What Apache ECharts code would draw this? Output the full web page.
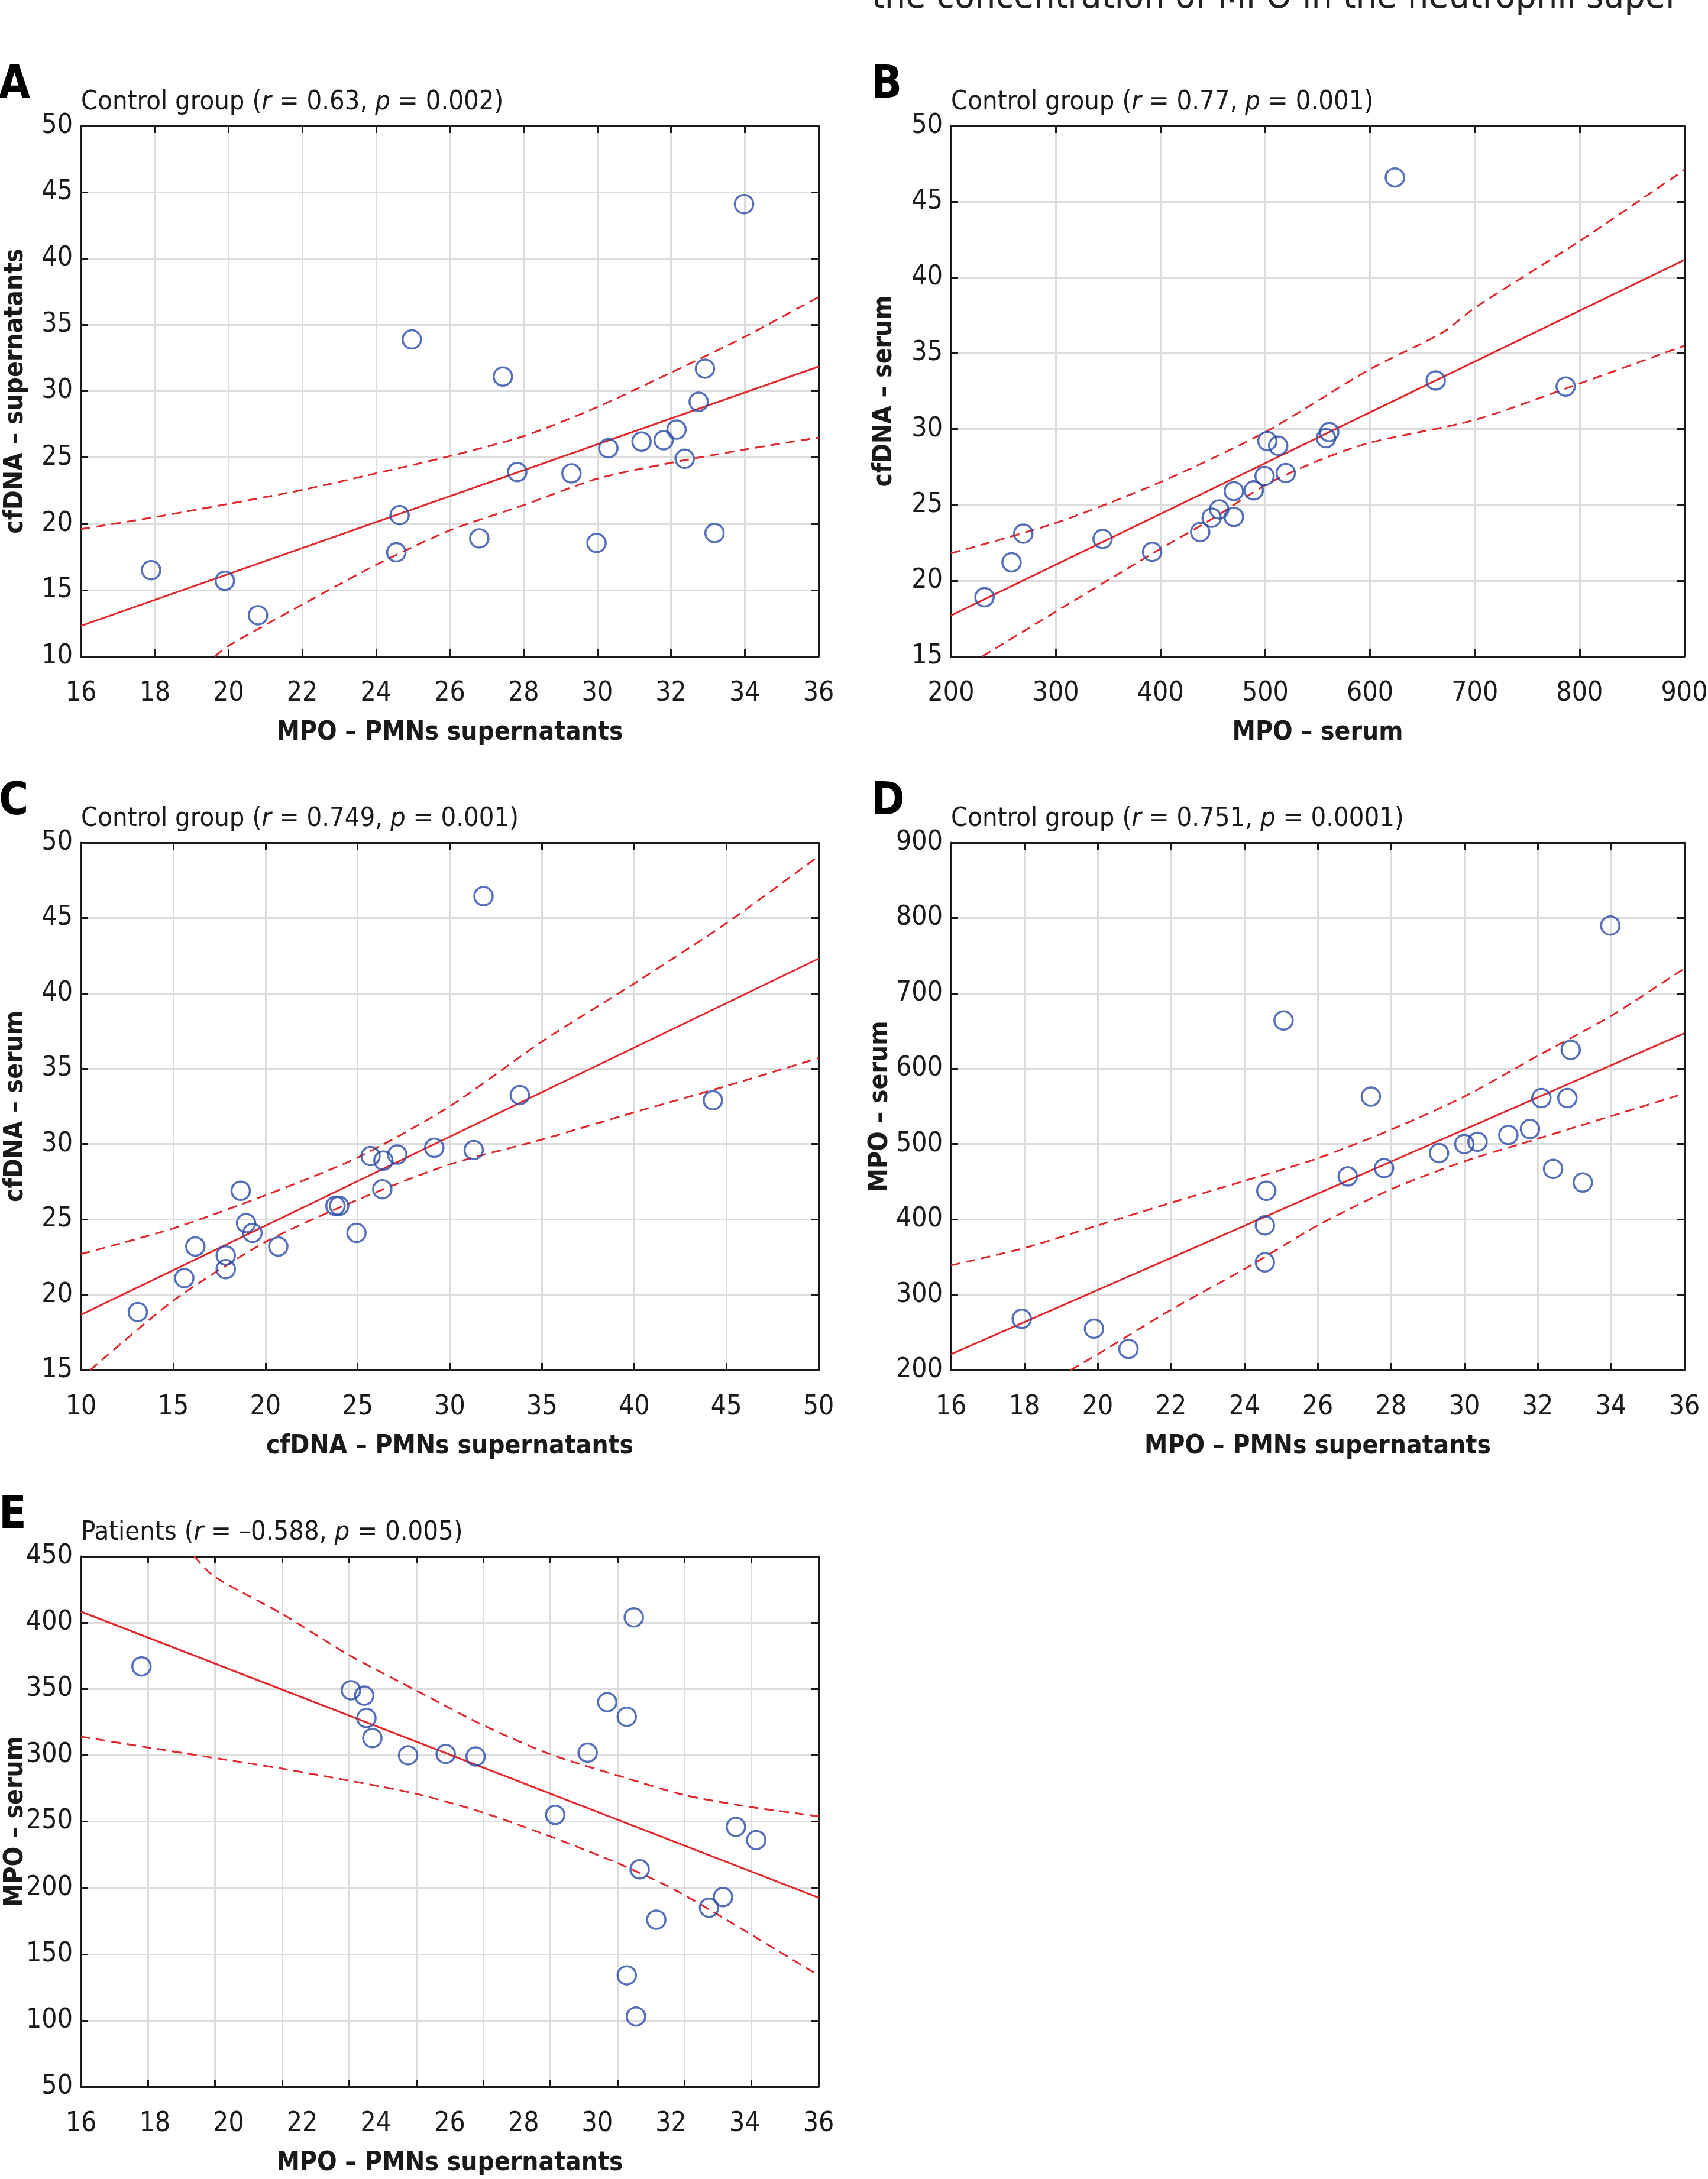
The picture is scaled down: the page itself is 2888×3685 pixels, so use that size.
<!DOCTYPE html>
<html>
<head>
<meta charset="utf-8">
<script src="https://cdn.jsdelivr.net/npm/echarts@6/dist/echarts.min.js"></script>
<style>
html,body{margin:0;padding:0;background:#fff}
#chart{width:2888px;height:3685px}
</style>
</head>
<body>
<div id="chart"></div>
<script>
// ---- A: MPO (PMNs supernatants) vs cfDNA (supernatants)
var aX = [17.9,19.9,20.8,24.55,24.64,24.97,26.8,27.44,27.83,29.3,29.98,30.3,31.2,31.8,32.15,32.37,32.75,32.92,33.18,33.98];
var aY = [16.5,15.7,13.1,17.85,20.65,33.9,18.9,31.1,23.9,23.8,18.55,25.7,26.2,26.3,27.1,24.9,29.2,31.7,19.3,44.1];
var aFit = [[16,12.3],[36,31.85]];
var aUp = [[16,19.6],[18,20.5],[20,21.5],[22,22.55],[24,23.8],[26,25.1],[28,26.6],[30,28.8],[32,31.4],[34,34.1],[36,37.1]];
var aLo = [[19.63,10],[20,10.8],[22,13.9],[24,16.9],[26,19.5],[28,21.4],[30,23.4],[32,24.6],[34,25.6],[36,26.5]];

// ---- B: MPO serum vs cfDNA serum
var bX = [232,257.8,269,344.7,392,437.9,448.8,456,470,470,489,499.3,502,512.3,519.6,558,561,623.7,662.7,786.7];
var bY = [18.9,21.2,23.1,22.75,21.9,23.2,24.15,24.7,24.2,25.9,25.95,26.9,29.2,28.9,27.1,29.4,29.8,46.6,33.2,32.8];
var bFit = [[200,17.7],[900,41.16]];
var bUp = [[200,21.8],[300,23.8],[400,26.5],[500,29.8],[600,33.95],[670,36.4],[700,38.0],[800,42.4],[900,47.1]];
var bLo = [[230,15],[300,17.95],[400,22.1],[450,24.1],[500,26.3],[550,27.9],[600,29.1],[700,30.6],[800,33.0],[900,35.5]];

// ---- C: cfDNA PMNs supernatants vs cfDNA serum
var cX = [13.08,15.6,16.2,17.85,17.85,18.66,18.95,19.3,20.7,23.8,24.0,24.94,25.7,26.4,26.34,27.15,29.16,31.3,31.83,33.8,44.27];
var cY = [18.85,21.1,23.2,22.6,21.7,26.9,24.75,24.1,23.2,25.9,25.9,24.1,29.2,28.9,27.0,29.3,29.75,29.6,46.45,33.25,32.9];
var cFit = [[10,18.67],[50,42.3]];
var cUp = [[10,22.7],[15,24.4],[20,26.6],[25,29.1],[30,32.5],[35,36.8],[40,40.65],[45,44.65],[50,49.1]];
var cLo = [[10.5,15],[15,19.6],[20,23.5],[25,26.3],[30,28.65],[35,30.3],[40,32.1],[45,33.85],[50,35.7]];

// ---- D: MPO PMNs supernatants vs MPO serum (control)
var dX = [17.93,19.9,20.84,24.56,24.56,24.6,25.07,26.82,27.45,27.81,29.31,30.0,30.36,31.2,31.79,32.1,32.42,32.81,32.9,33.23,33.98];
var dY = [268,255,228,343,392,438,664,457,563,468,488,500,503,512,520,561,467,561,625,449,790];
var dFit = [[16,221],[36,647]];
var dUp = [[16,339],[18,362],[20,392],[22,422],[24,451],[26,481],[28,519],[30,563],[32,617],[34,670],[36,733]];
var dLo = [[19.26,200],[20,221],[22,280],[24,334],[26,392],[28,440],[30,477],[32,507],[34,537],[36,567]];

// ---- E: MPO PMNs supernatants vs MPO serum (patients)
var eX = [17.64,23.32,23.68,23.74,23.9,24.87,25.89,26.7,28.86,29.74,30.27,30.8,30.99,31.15,31.6,30.8,31.05,33.03,33.41,33.76,34.31];
var eY = [367,349,345,328,313,300,301,299,255,302,340,329,404,214,176,134,103,185,193,246,236];
var eFit = [[16,408.3],[36,192.6]];
var eUp = [[19.07,450],[19.6,435],[21.43,407],[23.24,376],[25.08,349],[26.88,323],[28.7,301],[30.52,285],[32.36,270],[34.15,261],[36,254]];
var eLo = [[16,314],[17.79,306],[19.6,298],[21.43,290],[23.24,281],[25.08,271],[26.88,257],[28.7,239],[30.52,219],[32,200],[33.5,176],[36,134]];

// axis ranges [min, max, interval]
var xrMpoSup = [16,36,2];
var xrMpoSer = [200,900,100];
var xrDnaSup = [10,50,5];
var yrDna = [10,50,5];
var yrDnaSer = [15,50,5];
var yrMpoSer = [200,900,100];
var yrMpoPat = [50,450,50];

var FONT = "'DejaVu Sans Condensed','DejaVu Sans',sans-serif";
var INK = '#1a1a1a';
var BLUE = '#2b4ca6';
var RED = '#e0272c';

var panels = [
	{letter:'A', left:137, top:213, width:1247, height:897, grp:'Control group', r:'0.63', p:'0.002',
	 xr:xrMpoSup, yr:yrDna, xName:'MPO – PMNs supernatants', yName:'cfDNA – supernatants', yGap:88,
	 x:aX, y:aY, fit:aFit, up:aUp, lo:aLo},
	{letter:'B', left:1608, top:213, width:1240, height:897, grp:'Control group', r:'0.77', p:'0.001',
	 xr:xrMpoSer, yr:yrDnaSer, xName:'MPO – serum', yName:'cfDNA – serum', yGap:90,
	 x:bX, y:bY, fit:bFit, up:bUp, lo:bLo},
	{letter:'C', left:137, top:1425, width:1247, height:892, grp:'Control group', r:'0.749', p:'0.001',
	 xr:xrDnaSup, yr:yrDnaSer, xName:'cfDNA – PMNs supernatants', yName:'cfDNA – serum', yGap:88,
	 x:cX, y:cY, fit:cFit, up:cUp, lo:cLo},
	{letter:'D', left:1608, top:1425, width:1240, height:892, grp:'Control group', r:'0.751', p:'0.0001',
	 xr:xrMpoSup, yr:yrMpoSer, xName:'MPO – PMNs supernatants', yName:'MPO – serum', yGap:97,
	 x:dX, y:dY, fit:dFit, up:dUp, lo:dLo},
	{letter:'E', left:137, top:2632, width:1247, height:897, grp:'Patients', r:'–0.588', p:'0.005',
	 xr:xrMpoSup, yr:yrMpoPat, xName:'MPO – PMNs supernatants', yName:'MPO – serum', yGap:88,
	 x:eX, y:eY, fit:eFit, up:eUp, lo:eLo, gridSteps:11}
];

var boxLine = {show:true, onZero:false, lineStyle:{color:INK, width:3}};
var inTick = {show:true, inside:true, length:12, lineStyle:{color:INK, width:3}};
var gridLine = {show:true, lineStyle:{color:'#dcdcdc', width:3}};
var tickFont = {fontSize:46, fontFamily:FONT, color:INK};
var nameFont = {fontSize:44, fontFamily:FONT, fontWeight:'bold', color:INK};

var grids = [], xAxes = [], yAxes = [], series = [], titles = [];

panels.forEach(function(p, i){
	grids.push({left:p.left, top:p.top, width:p.width, height:p.height, outerBoundsMode:'none'});

	var xi = xAxes.length;
	var steps = p.gridSteps;
	// bottom axis with labels
	xAxes.push({
		gridIndex:i, type:'value', position:'bottom',
		min:p.xr[0], max:p.xr[1], interval:p.xr[2],
		axisLine:boxLine,
		axisTick:steps ? {show:false} : inTick,
		splitLine:steps ? {show:false} : gridLine,
		axisLabel:Object.assign({margin:40, showMinLabel:true, showMaxLabel:true}, tickFont),
		name:p.xName, nameLocation:'middle', nameGap:108, nameMoveOverlap:false, nameTextStyle:nameFont
	});
	// top axis, ticks only
	xAxes.push({
		gridIndex:i, type:'value', position:'top',
		min:steps ? 0 : p.xr[0], max:steps ? steps : p.xr[1], interval:steps ? 1 : p.xr[2],
		axisLine:boxLine, axisTick:inTick, axisLabel:{show:false},
		splitLine:steps ? gridLine : {show:false}
	});
	if (steps) {
		// panel E: the printed grid has its own spacing, not the label spacing
		xAxes.push({
			gridIndex:i, type:'value', position:'bottom',
			min:0, max:steps, interval:1,
			axisLine:{show:false}, axisTick:inTick, axisLabel:{show:false}, splitLine:{show:false}
		});
	}

	var yi = yAxes.length;
	yAxes.push({
		gridIndex:i, type:'value', position:'left',
		min:p.yr[0], max:p.yr[1], interval:p.yr[2],
		axisLine:boxLine, axisTick:inTick, splitLine:gridLine,
		axisLabel:Object.assign({margin:14, showMinLabel:true, showMaxLabel:true}, tickFont),
		name:p.yName, nameLocation:'middle', nameGap:p.yGap, nameMoveOverlap:false, nameTextStyle:nameFont
	});
	yAxes.push({
		gridIndex:i, type:'value', position:'right',
		min:p.yr[0], max:p.yr[1], interval:p.yr[2],
		axisLine:boxLine, axisTick:inTick, axisLabel:{show:false}, splitLine:{show:false}
	});

	var pts = p.x.map(function(v, k){ return [v, p.y[k]]; });
	series.push({
		type:'scatter', xAxisIndex:xi, yAxisIndex:yi, data:pts,
		symbol:'circle', symbolSize:31, z:4,
		itemStyle:{color:'rgba(0,0,0,0)', borderColor:BLUE, borderWidth:3.5},
		silent:true
	});
	series.push({
		type:'line', xAxisIndex:xi, yAxisIndex:yi, data:p.fit,
		showSymbol:false, symbol:'none', z:3, silent:true,
		lineStyle:{color:RED, width:3}
	});
	[p.up, p.lo].forEach(function(band){
		series.push({
			type:'line', xAxisIndex:xi, yAxisIndex:yi, data:band,
			showSymbol:false, symbol:'none', smooth:0.25, z:3, silent:true,
			lineStyle:{color:RED, width:3, type:[16,10]}
		});
	});

	// panel letter
	titles.push({
		text:p.letter, left:p.left < 1000 ? -2 : 1473,
		top:p.top - 106, padding:0,
		textStyle:{fontSize:76, fontWeight:'bold', fontFamily:FONT, color:'#000'}
	});
	// panel heading with italic r and p
	var rn = {fontSize:45, fontFamily:FONT, fontWeight:'normal', color:INK};
	var ri = {fontSize:45, fontFamily:FONT, fontWeight:'normal', color:INK, fontStyle:'italic'};
	titles.push({
		text:'{n|' + p.grp + ' (}{i|r}{n| = ' + p.r + ', }{i|p}{n| = ' + p.p + ')}',
		left:p.left, top:p.top - 62, padding:0,
		textStyle:{fontWeight:'normal', rich:{n:rn, i:ri}}
	});
});

// running text of the page, cut by the top edge
titles.push({
	text:'the concentration of MPO in the neutrophil super',
	left:1474, top:-34, padding:0,
	textStyle:{fontSize:62, fontFamily:FONT, color:'#222', fontWeight:'normal'}
});

var chart = echarts.init(document.getElementById('chart'), null, {renderer:'canvas'});
chart.setOption({
	backgroundColor:'#fff',
	animation:false,
	title:titles,
	grid:grids,
	xAxis:xAxes,
	yAxis:yAxes,
	series:series
});
</script>
</body>
</html>
